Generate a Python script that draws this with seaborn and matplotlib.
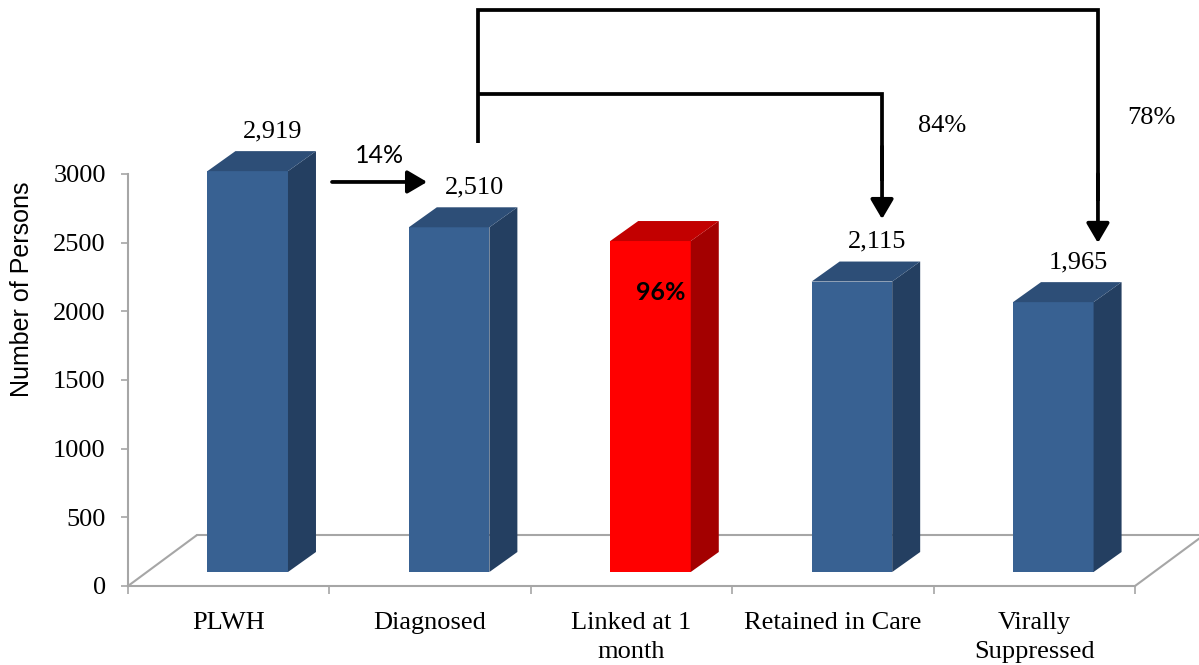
import numpy as np
import pandas as pd
import seaborn as sns
import matplotlib.pyplot as plt
import matplotlib.transforms as mtransforms
from matplotlib.patches import Polygon

# HIV care continuum
stages = ["PLWH", "Diagnosed", "Linked at 1\nmonth", "Retained in Care", "Virally\nSuppressed"]
persons = [2919, 2510, 2410, 2115, 1965]
y_ticks = [0, 500, 1000, 1500, 2000, 2500, 3000]

front_colors = ["#386192", "#386192", "#FF0000", "#386192", "#386192"]
top_colors = ["#2D4E77", "#2D4E77", "#C20000", "#2D4E77", "#2D4E77"]
side_colors = ["#243F61", "#243F61", "#A30000", "#243F61", "#243F61"]

W, H, DPI = 1199, 665, 100
GRAY = "#A6A6A6"

# pseudo-3D geometry in pixels (right, up)
BAR_SHIFT = np.array([19.0, 14.0])
BAR_DEPTH = np.array([28.0, 20.0])
FLOOR_DEPTH = np.array([69.0, 51.0])

sns.set_style("white")
plt.rcParams["font.family"] = ["Liberation Serif", "DejaVu Serif"]
plt.rcParams["text.color"] = "black"
plt.rcParams["axes.labelcolor"] = "black"
plt.rcParams["xtick.color"] = "black"
plt.rcParams["ytick.color"] = "black"

fig = plt.figure(figsize=(W / DPI, H / DPI), dpi=DPI)
ax = fig.add_axes([128 / W, (H - 586) / H, 1007 / W, 412 / H])

df = pd.DataFrame({"stage": stages, "persons": persons})
sns.barplot(data=df, x="stage", y="persons", hue="stage", palette=front_colors,
            width=0.4, saturation=1, legend=False, linewidth=0, ax=ax, zorder=3)

ax.set_xlim(-0.5, len(stages) - 0.5)
ax.set_ylim(y_ticks[0], y_ticks[-1])
ax.set_xlabel("")

ident = mtransforms.IdentityTransform()
front_tr = ax.transData + mtransforms.Affine2D().translate(*BAR_SHIFT)

# floor outline
o = ax.transData.transform((-0.5, 0))
r = ax.transData.transform((len(stages) - 0.5, 0))
for a, b in [(o, o + FLOOR_DEPTH), (o + FLOOR_DEPTH, r + FLOOR_DEPTH), (r, r + FLOOR_DEPTH)]:
    ax.add_line(plt.Line2D([a[0], b[0]], [a[1], b[1]], transform=ident,
                           color=GRAY, lw=1.5, clip_on=False, zorder=1))

# bar faces
bars = sorted(ax.patches, key=lambda p: p.get_x())
for i, p in enumerate(bars):
    p.set_transform(front_tr)
    p.set_clip_on(False)
    x0, w, h = p.get_x(), p.get_width(), p.get_height()
    bl, br = ax.transData.transform([(x0, 0), (x0 + w, 0)]) + BAR_SHIFT
    tl, tr = ax.transData.transform([(x0, h), (x0 + w, h)]) + BAR_SHIFT
    side = Polygon([br, tr, tr + BAR_DEPTH, br + BAR_DEPTH], closed=True,
                   facecolor=side_colors[i], edgecolor="none", transform=ident,
                   clip_on=False, zorder=3)
    top = Polygon([tl, tr, tr + BAR_DEPTH, tl + BAR_DEPTH], closed=True,
                  facecolor=top_colors[i], edgecolor="none", transform=ident,
                  clip_on=False, zorder=3)
    ax.add_patch(side)
    ax.add_patch(top)

# axes styling
for s in ["top", "right"]:
    ax.spines[s].set_visible(False)
for s in ["left", "bottom"]:
    ax.spines[s].set_color(GRAY)
    ax.spines[s].set_linewidth(1.5)

ax.set_yticks(y_ticks)
ax.set_yticklabels([str(t) for t in y_ticks])
ax.tick_params(axis="y", direction="out", length=5, width=1.2, color=GRAY,
               labelcolor="black", pad=11, labelsize=19, left=True)
ax.set_xticks(range(len(stages)))
ax.set_xticklabels(stages, linespacing=1.38)
ax.tick_params(axis="x", which="major", length=0, pad=19, labelsize=19,
               labelcolor="black")
ax.set_xticks(np.arange(-0.5, len(stages), 1.0), minor=True)
ax.tick_params(axis="x", which="minor", direction="out", length=5.5, width=1.2,
               color=GRAY, bottom=True)
ax.grid(False)

ax.set_ylabel("Number of Persons", family=["Liberation Sans"], fontsize=18,
              color="black")
ax.yaxis.set_label_coords(-0.105, 0.721)
ax.yaxis.label.set_va("center")

# value labels
plwh, diagnosed, linked, retained, suppressed = persons
for i, v in enumerate(persons):
    if i == 2:
        continue
    ax.annotate(f"{v:,}", xy=(i, v), xytext=(44, 54), textcoords="offset pixels",
                ha="center", va="center", fontsize=19, annotation_clip=False, zorder=5)

ax.annotate(f"{round(100 * linked / diagnosed)}%", xy=(2, linked), xytext=(29, -37),
            textcoords="offset pixels", ha="center", va="center", fontsize=18,
            family=["Lato", "DejaVu Sans"], fontweight="bold", zorder=5)

# step-down arrows
LW = 2.7
head = dict(arrowstyle="-|>,head_length=0.85,head_width=0.5", color="black",
            lw=LW, mutation_scale=14, shrinkA=0, shrinkB=0)
line_kw = dict(color="black", lw=LW, clip_on=False,
               solid_capstyle="butt", solid_joinstyle="miter")

ax.annotate("", xy=(0.985, 2942), xytext=(0.513, 2942), arrowprops=head,
            annotation_clip=False)
ax.text(0.751, 3138, f"{round(100 * (1 - diagnosed / plwh))}%", ha="center", va="center",
        fontsize=18, family=["Lato", "DejaVu Sans"], clip_on=False)

# outer bracket: Diagnosed -> Virally Suppressed
ax.plot([1.238, 1.238, 4.316, 4.316], [3226, 4194, 4194, 2800], **line_kw)
ax.annotate("", xy=(4.316, 2498), xytext=(4.316, 3000), arrowprops=head,
            annotation_clip=False)
# inner bracket: Diagnosed -> Retained in Care
ax.plot([1.238, 3.244, 3.244], [3583, 3583, 2950], **line_kw)
ax.annotate("", xy=(3.244, 2672), xytext=(3.244, 3200), arrowprops=head,
            annotation_clip=False)

ax.text(3.542, 3350, f"{round(100 * retained / diagnosed)}%", ha="center", va="center",
        fontsize=19, clip_on=False)
ax.text(4.584, 3408, f"{round(100 * suppressed / diagnosed)}%", ha="center", va="center",
        fontsize=19, clip_on=False)

fig.savefig("out.png", dpi=DPI, facecolor="white")
